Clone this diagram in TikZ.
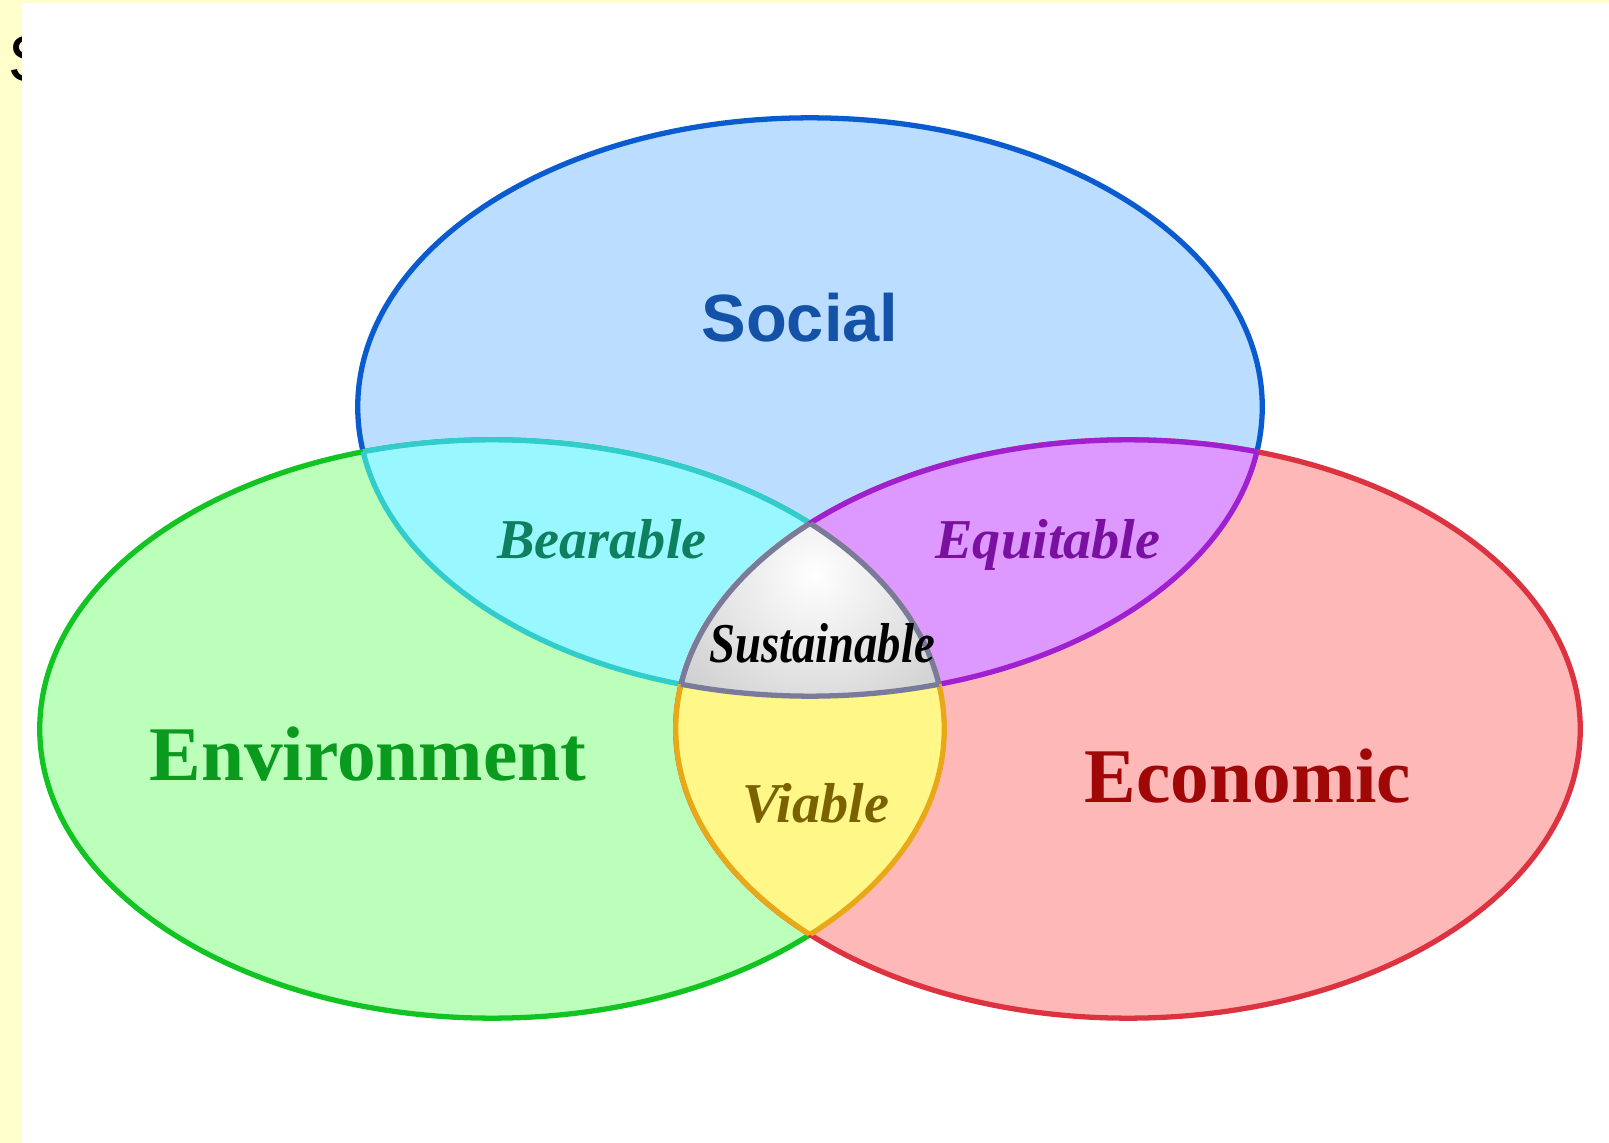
\documentclass[tikz,border=0pt]{standalone}
\usepackage{fontspec}
\setmainfont{Liberation Serif}
\newfontfamily\headfont{Liberation Sans}

\definecolor{paper}{HTML}{FFFFCC}
\definecolor{socfill}{HTML}{BBDDFF}
\definecolor{socline}{HTML}{0A5AD0}
\definecolor{soctext}{HTML}{1452A8}
\definecolor{envfill}{HTML}{BBFFBB}
\definecolor{envline}{HTML}{11C422}
\definecolor{envtext}{HTML}{0A9A1E}
\definecolor{ecofill}{HTML}{FFB8B8}
\definecolor{ecoline}{HTML}{DD3340}
\definecolor{ecotext}{HTML}{A00808}
\definecolor{bearfill}{HTML}{99F8FF}
\definecolor{bearline}{HTML}{33CCCC}
\definecolor{beartext}{HTML}{0E8060}
\definecolor{eqfill}{HTML}{DD99FF}
\definecolor{eqline}{HTML}{A020D0}
\definecolor{eqtext}{HTML}{7A10A0}
\definecolor{viafill}{HTML}{FFF788}
\definecolor{vialine}{HTML}{E8A818}
\definecolor{viatext}{HTML}{7A6200}
\definecolor{susline}{HTML}{7A7A9A}

\begin{document}
\begin{tikzpicture}[x=0.01cm,y=-0.01cm]

% ----------------------------
% Styles
% ----------------------------
\tikzset{
	ring/.style={line width=1.5pt},
	socset/.style={ring,fill=socfill,draw=socline},
	envset/.style={ring,fill=envfill,draw=envline},
	ecoset/.style={ring,fill=ecofill,draw=ecoline},
	bearset/.style={ring,fill=bearfill,draw=bearline},
	eqset/.style={ring,fill=eqfill,draw=eqline},
	viaset/.style={ring,fill=viafill,draw=vialine},
	susedge/.style={ring,draw=susline},
	headlbl/.style={anchor=base,inner sep=0pt,font=\headfont\fontsize{19}{19}\selectfont\bfseries},
	setlbl/.style={anchor=base,inner sep=0pt,font=\fontsize{22}{22}\selectfont\bfseries},
	sublbl/.style={anchor=base,inner sep=0pt,font=\fontsize{16}{16}\selectfont\bfseries\itshape},
	stray/.style={anchor=base west,inner sep=0pt,font=\headfont\fontsize{18.6}{18.6}\selectfont}
}

% the three sets (centres in pixels)
\def\rx{4.52cm}
\def\ry{2.89cm}
\def\Soc{(810,407) ellipse [x radius=\rx,y radius=\ry]}
\def\Env{(492,729) ellipse [x radius=\rx,y radius=\ry]}
\def\Eco{(1128,729) ellipse [x radius=\rx,y radius=\ry]}

% ============================================================
% Page: yellow strip, cut-off letter, white sheet
% ============================================================
\fill[paper] (0,0) rectangle (1609,1143);
\node[stray] (cut) at (8,82) {S};
\fill[white] (22,3) rectangle (1609,1143);
\useasboundingbox (0,0) rectangle (1609,1143);

% ============================================================
% Sets
% ============================================================
\draw[socset] \Soc;
\draw[envset] \Env;
\draw[ecoset] \Eco;

% Social & Environment: bearable
\begin{scope}
	\clip \Soc;
	\draw[bearset] \Env;
\end{scope}
\begin{scope}
	\clip \Env;
	\draw[ring,draw=bearline] \Soc;
\end{scope}

% Social & Economic: equitable
\begin{scope}
	\clip \Soc;
	\draw[eqset] \Eco;
\end{scope}
\begin{scope}
	\clip \Eco;
	\draw[ring,draw=eqline] \Soc;
\end{scope}

% Environment & Economic: viable
\begin{scope}
	\clip \Env;
	\draw[viaset] \Eco;
\end{scope}
\begin{scope}
	\clip \Eco;
	\draw[ring,draw=vialine] \Env;
\end{scope}

% all three: sustainable (shaded)
\begin{scope}
	\clip \Soc;
	\clip \Env;
	\clip \Eco;
	\shade[inner color=white,outer color=black!38] (815,575) circle (3.4cm);
\end{scope}
\begin{scope}
	\clip \Env;
	\clip \Eco;
	\draw[susedge] \Soc;
\end{scope}
\begin{scope}
	\clip \Soc;
	\clip \Eco;
	\draw[susedge] \Env;
\end{scope}
\begin{scope}
	\clip \Soc;
	\clip \Env;
	\draw[susedge] \Eco;
\end{scope}

% ============================================================
% Labels
% ============================================================
\node[headlbl,text=soctext] (social) at (800,342) {Social};
\node[setlbl,text=envtext] (environment) at (368,780) {Environment};
\node[setlbl,text=ecotext] (economic) at (1248,802) {Economic};
\node[sublbl,text=beartext] (bearable) at (602,558) {Bearable};
\node[sublbl,text=eqtext] (equitable) at (1048,558) {Equitable};
\node[sublbl,text=viatext] (viable) at (816,822) {Viable};
\node[sublbl,text=black] (sustainable) at (822,662) {\scalebox{0.83}[1]{Sustainable}};

\end{tikzpicture}
\end{document}
